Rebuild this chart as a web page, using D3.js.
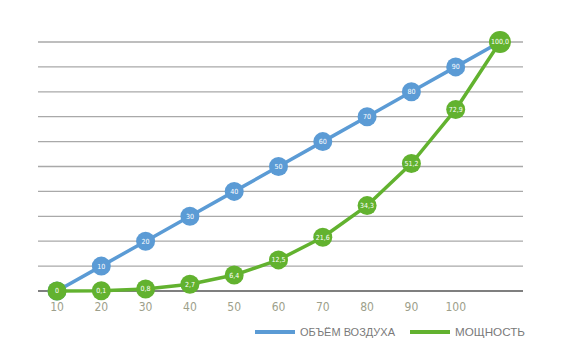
<!DOCTYPE html>
<html>
<head>
<meta charset="utf-8">
<script src="https://cdn.jsdelivr.net/npm/d3@7"></script>
<style>
  body { margin: 0; background: #fff; }
</style>
</head>
<body>
<script>
// chart size
var width = 565;
var height = 364;

var categories = ["10", "20", "30", "40", "50", "60", "70", "80", "90", "100", ""];
var airVolume = [0, 10, 20, 30, 40, 50, 60, 70, 80, 90, 100];
var power = [0, 0.1, 0.8, 2.7, 6.4, 12.5, 21.6, 34.3, 51.2, 72.9, 100.0];
var gridTicks = [0, 10, 20, 30, 40, 50, 60, 70, 80, 90, 100];
var seriesNames = ["ОБЪЁМ ВОЗДУХА", "МОЩНОСТЬ"];

var blue = "#5b9bd5";
var green = "#62b22f";

var svg = d3.select("body").append("svg").attr("width", width).attr("height", height);

var x = d3.scalePoint().domain(d3.range(categories.length)).range([57, 500]);
var y = d3.scaleLinear().domain([0, 100]).range([291, 42]);

// gridlines
svg.append("g")
  .selectAll("line")
  .data(gridTicks.slice(1))
  .enter()
  .append("line")
  .attr("x1", 38).attr("x2", 523)
  .attr("y1", function(d){ return y(d); })
  .attr("y2", function(d){ return y(d); })
  .attr("stroke", "#a9a9a9")
  .attr("stroke-width", 1.3);

// baseline
svg.append("line")
  .attr("x1", 38).attr("x2", 523)
  .attr("y1", y(0)).attr("y2", y(0))
  .attr("stroke", "#7f7f7f")
  .attr("stroke-width", 2);

// x labels
svg.append("g")
  .selectAll("text")
  .data(categories)
  .enter()
  .append("text")
  .attr("x", function(d, i){ return x(i); })
  .attr("y", 311)
  .attr("text-anchor", "middle")
  .attr("font-family", "'Liberation Sans Narrow', 'DejaVu Sans Condensed', sans-serif")
  .attr("font-size", 12)
  .attr("fill", "#9d9f8b")
  .text(function(d){ return d; });

var line = d3.line()
  .x(function(d, i){ return x(i); })
  .y(function(d){ return y(d); });

function fmt(v) {
  if (v === 0) return "0";
  return v.toFixed(1).replace(".", ",");
}

function drawSeries(values, color, labelFn, lastR) {
  svg.append("path")
    .datum(values)
    .attr("fill", "none")
    .attr("stroke", color)
    .attr("stroke-width", 3.5)
    .attr("stroke-linejoin", "round")
    .attr("d", line);

  var g = svg.append("g")
    .selectAll("g")
    .data(values)
    .enter()
    .append("g")
    .attr("transform", function(d, i){ return "translate(" + x(i) + "," + y(d) + ")"; });

  g.append("circle")
    .attr("r", function(d, i){ return i === values.length - 1 ? lastR : 9.5; })
    .attr("fill", color);

  g.append("text")
    .attr("text-anchor", "middle")
    .attr("dy", "0.35em")
    .attr("font-family", "'Liberation Sans Narrow', 'DejaVu Sans Condensed', sans-serif")
    .attr("font-size", 7)
    .attr("fill", "#fff")
    .text(labelFn);
}

// blue's last label sits under the green 100,0 marker, so leave it blank
drawSeries(airVolume, blue, function(d, i){ return i === airVolume.length - 1 ? "" : d; }, 9.5);
drawSeries(power, green, fmt, 11);

// legend
var legend = [
  {name: seriesNames[0], color: blue, x: 255, tx: 300, tw: 95},
  {name: seriesNames[1], color: green, x: 410, tx: 455, tw: 70}
];

var lg = svg.append("g")
  .selectAll("g")
  .data(legend)
  .enter()
  .append("g");

lg.append("line")
  .attr("x1", function(d){ return d.x; })
  .attr("x2", function(d){ return d.x + 40; })
  .attr("y1", 332).attr("y2", 332)
  .attr("stroke", function(d){ return d.color; })
  .attr("stroke-width", 4);

lg.append("text")
  .attr("x", function(d){ return d.tx; })
  .attr("y", 336)
  .attr("font-family", "'Liberation Sans', Arial, sans-serif")
  .attr("font-size", 11)
  .attr("fill", "#7a7a7a")
  .attr("textLength", function(d){ return d.tw; })
  .attr("lengthAdjust", "spacingAndGlyphs")
  .text(function(d){ return d.name; });
</script>
</body>
</html>
